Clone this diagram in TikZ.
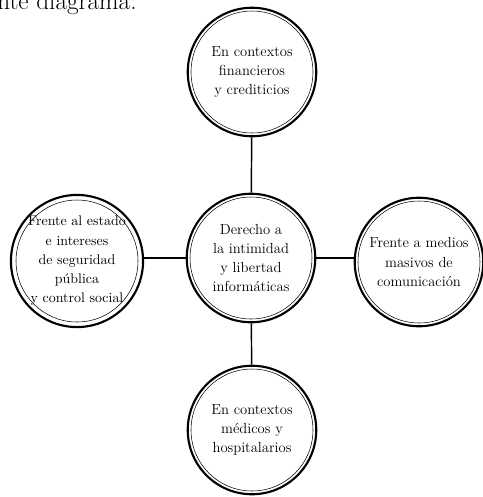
\documentclass[tikz,border=0pt]{standalone}
\usepackage{tikz}
\usetikzlibrary{calc}

\begin{document}
\begin{tikzpicture}[x=0.02646cm, y=-0.02646cm,
    bubble/.style={circle, draw, line width=1.6pt, minimum size=3.4cm, inner sep=0pt,
                   align=center, font=\fontsize{11}{14.5}\selectfont},
    link/.style={line width=1.1pt}]
    \def\ri{61}
    \useasboundingbox (0, 0) rectangle (483, 497);

    \node[anchor=base west, font=\fontsize{19}{20}\selectfont, inner sep=0pt] (head) at (-3, 9) {nte diagrama:};

    \node[bubble] (mid) at (251, 258) {Derecho a\\la intimidad\\y libertad\\informáticas};
    \node[bubble] (top) at (252, 72) {En contextos\\financieros\\y crediticios};
    \node[bubble, font=\fontsize{10.5}{14.5}\selectfont] (left) at (77, 261) {Frente al estado\\e intereses\\de seguridad\\pública\\y control social};
    \node[bubble] (right) at (419, 262) {Frente a medios\\masivos de\\comunicación};
    \node[bubble] (bot) at (252, 430) {En contextos\\médicos y\\hospitalarios};

    \draw[thin] (mid.center) circle (\ri);
    \draw[thin] (top.center) circle (\ri);
    \draw[thin] (left.center) circle (\ri);
    \draw[thin] (right.center) circle (\ri);
    \draw[thin] (bot.center) circle (\ri);

    \draw[link] (top) -- (mid);
    \draw[link] (mid) -- (bot);
    \draw[link] (left.east |- mid.west) -- (mid.west);
    \draw[link] (mid.east) -- (right.west |- mid.east);
\end{tikzpicture}
\end{document}
